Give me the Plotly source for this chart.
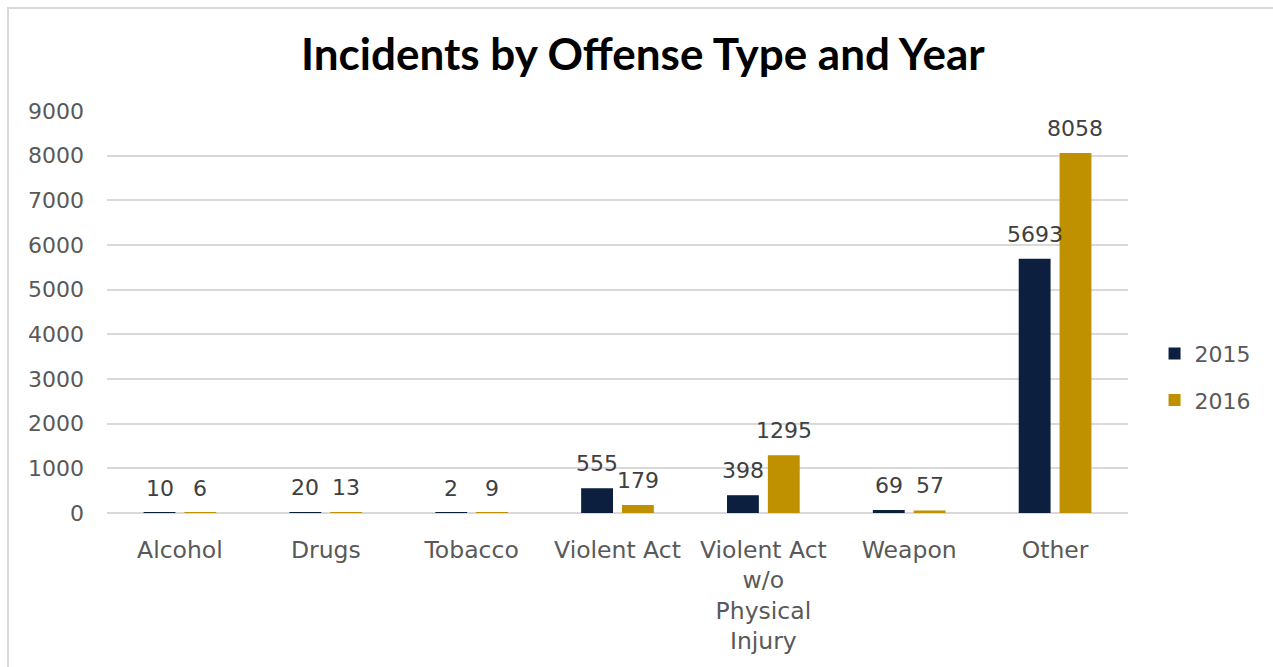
import plotly.graph_objects as go

# Offense categories and yearly incident counts
categories = ["Alcohol", "Drugs", "Tobacco", "Violent Act",
              "Violent Act<br>w/o<br>Physical<br>Injury", "Weapon", "Other"]
incidents_2015 = [10, 20, 2, 555, 398, 69, 5693]
incidents_2016 = [6, 13, 9, 179, 1295, 57, 8058]
y_ticks = [0, 1000, 2000, 3000, 4000, 5000, 6000, 7000, 8000, 9000]

FONT = "'DejaVu Sans', sans-serif"
TITLE_FONT = "Lato, 'Noto Sans', sans-serif"
NAVY = "#0c1f3f"
GOLD = "#bf9000"

W, H = 1273, 667
ml, mr, mt, mb = 107, 145, 111, 154
pw, ph = W - ml - mr, H - mt - mb
slot_px = pw / len(categories) * (1 - 0.44) / 2   # width of one bar slot

fig = go.Figure()
series = [("2015", incidents_2015, NAVY, -1), ("2016", incidents_2016, GOLD, 1)]
annotations = []
for name, vals, color, side in series:
    fig.add_trace(go.Bar(
        name=name, x=categories, y=vals, legendgroup=name,
        marker=dict(color=color, line=dict(width=0)),
    ))
    # value labels above each bar
    for cat, v in zip(categories, vals):
        annotations.append(dict(
            x=cat, y=v, xref="x", yref="y", text=str(v), showarrow=False,
            xanchor="center", yanchor="bottom", xshift=side * slot_px / 2, yshift=10,
            font=dict(family=FONT, size=22, color="#404040"),
        ))

fig.update_layout(
    width=W, height=H,
    margin=dict(l=ml, r=mr, t=mt, b=mb),
    paper_bgcolor="white", plot_bgcolor="white",
    barmode="group", bargap=0.44, bargroupgap=0.22,
    title=dict(text="<b>Incidents by Offense Type and Year</b>",
               font=dict(family=TITLE_FONT, size=44, color="#000000"),
               x=0.505, xanchor="center", y=0.918, yanchor="middle"),
    font=dict(family=FONT, color="#595959"),
    legend=dict(x=1.026, xanchor="left", y=0.338, yanchor="middle",
                font=dict(family=FONT, size=22, color="#595959"),
                itemwidth=30, tracegroupgap=15, bgcolor="rgba(0,0,0,0)"),
    xaxis=dict(showgrid=False, showline=False, ticks="",
               tickfont=dict(family=FONT, size=23.5, color="#595959"),
               ticklabelstandoff=20),
    yaxis=dict(range=[0, 9000], tickvals=y_ticks, showgrid=True,
               gridcolor="#d9d9d9", gridwidth=1.5,
               zeroline=True, zerolinecolor="#d9d9d9", zerolinewidth=1.5,
               tickfont=dict(family=FONT, size=22, color="#595959"),
               ticklabelstandoff=22),
    annotations=annotations,
    shapes=[dict(type="rect", xref="paper", yref="paper",
                 x0=(8 - ml) / pw, x1=(W + 10 - ml) / pw,
                 y0=-(H + 10 - mt - ph) / ph, y1=1 + (mt - 8) / ph,
                 line=dict(color="#d9d9d9", width=2), layer="below")],
)

fig.write_html("out.html")
